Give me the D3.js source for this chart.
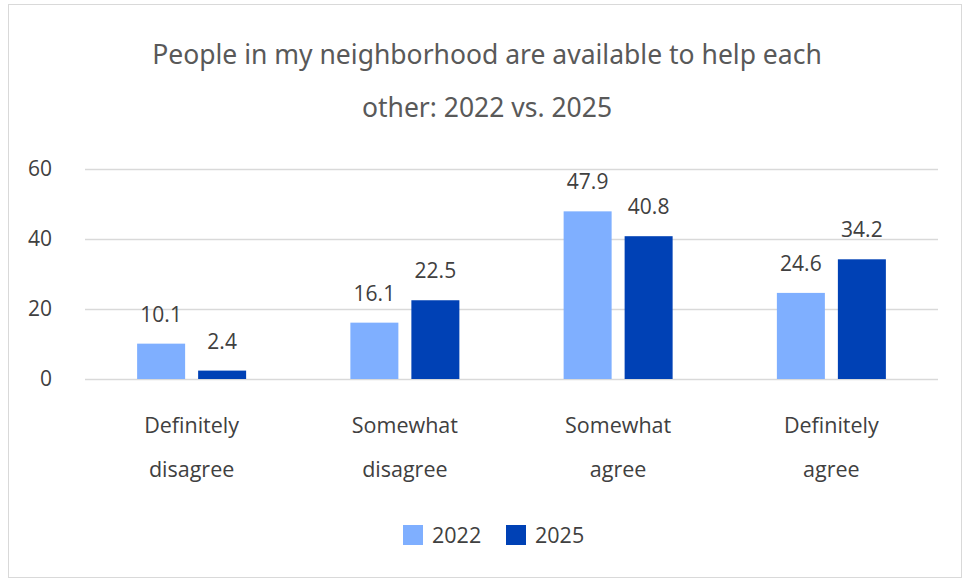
<!DOCTYPE html>
<html><head><meta charset="utf-8">
<script src="https://cdn.jsdelivr.net/npm/d3@7"></script>
<style>body{margin:0;background:#fff}svg{display:block}</style>
</head><body>
<script>
const categories = [["Definitely","disagree"],["Somewhat","disagree"],["Somewhat","agree"],["Definitely","agree"]];
const seriesNames = ["2022","2025"];
const values2022 = [10.1, 16.1, 47.9, 24.6];
const values2025 = [2.4, 22.5, 40.8, 34.2];
const yTicks = [0, 20, 40, 60];
const colors = ["#7FAFFF", "#0041B5"];
const titleLines = ["People in my neighborhood are available to help each", "other: 2022 vs. 2025"];

const W = 965, H = 581;
const svg = d3.select("body").append("svg").attr("width", W).attr("height", H);
svg.append("rect").attr("x", 8.5).attr("y", 4.5).attr("width", 953).attr("height", 573)
  .attr("fill", "#fff").attr("stroke", "#D9D9D9").attr("stroke-width", 1);

const font = "'Open Sans', 'Noto Sans', sans-serif";
const txt = "#404040";

svg.selectAll("text.title").data(titleLines).join("text")
  .attr("x", 487).attr("y", (d, i) => 64 + i * 53)
  .attr("text-anchor", "middle").attr("font-family", "'Noto Sans', sans-serif").attr("font-size", 26.5)
  .attr("fill", "#595959").text(d => d);

const x0 = d3.scaleBand().domain(d3.range(categories.length)).range([85, 938]).paddingInner(0).paddingOuter(0);
const y = d3.scaleLinear().domain([0, 60]).range([379, 169]);
const barW = 48, gap = 13;

svg.selectAll("line.grid").data(yTicks).join("line")
  .attr("x1", 85).attr("x2", 938).attr("y1", d => y(d) + 0.5).attr("y2", d => y(d) + 0.5)
  .attr("stroke", "#D9D9D9").attr("stroke-width", 1.3);

const yAxis = d3.axisLeft(y).tickValues(yTicks).tickSize(0).tickPadding(0);
const gy = svg.append("g").attr("transform", "translate(52,0)").call(yAxis);
gy.select(".domain").remove();
gy.selectAll("text").attr("font-family", font).attr("font-size", 21).attr("fill", txt);

const allSeries = [values2022, values2025];
allSeries.forEach((vals, s) => {
  const xs = i => x0(i) + x0.bandwidth() / 2 + (s === 0 ? -(gap / 2 + barW) : gap / 2);
  svg.selectAll("rect.s" + s).data(vals).join("rect")
    .attr("x", (d, i) => xs(i)).attr("y", d => y(d)).attr("width", barW).attr("height", d => y(0) - y(d))
    .attr("fill", colors[s]);
  svg.selectAll("text.l" + s).data(vals).join("text")
    .attr("x", (d, i) => xs(i) + barW / 2).attr("y", d => y(d) - 22)
    .attr("text-anchor", "middle").attr("font-family", font).attr("font-size", 21).attr("fill", txt)
    .text(d => d.toFixed(1));
});

categories.forEach((c, i) => {
  c.forEach((line, j) => {
    svg.append("text").attr("x", x0(i) + x0.bandwidth() / 2).attr("y", 433 + j * 44)
      .attr("text-anchor", "middle").attr("font-family", font).attr("font-size", 21.5).attr("fill", txt)
      .text(line);
  });
});

const legX = [403, 506];
seriesNames.forEach((n, s) => {
  svg.append("rect").attr("x", legX[s]).attr("y", 525).attr("width", 20).attr("height", 20).attr("fill", colors[s]);
  svg.append("text").attr("x", legX[s] + 29).attr("y", 543).attr("font-family", font).attr("font-size", 21.5)
    .attr("fill", txt).text(n);
});
</script>
</body></html>
